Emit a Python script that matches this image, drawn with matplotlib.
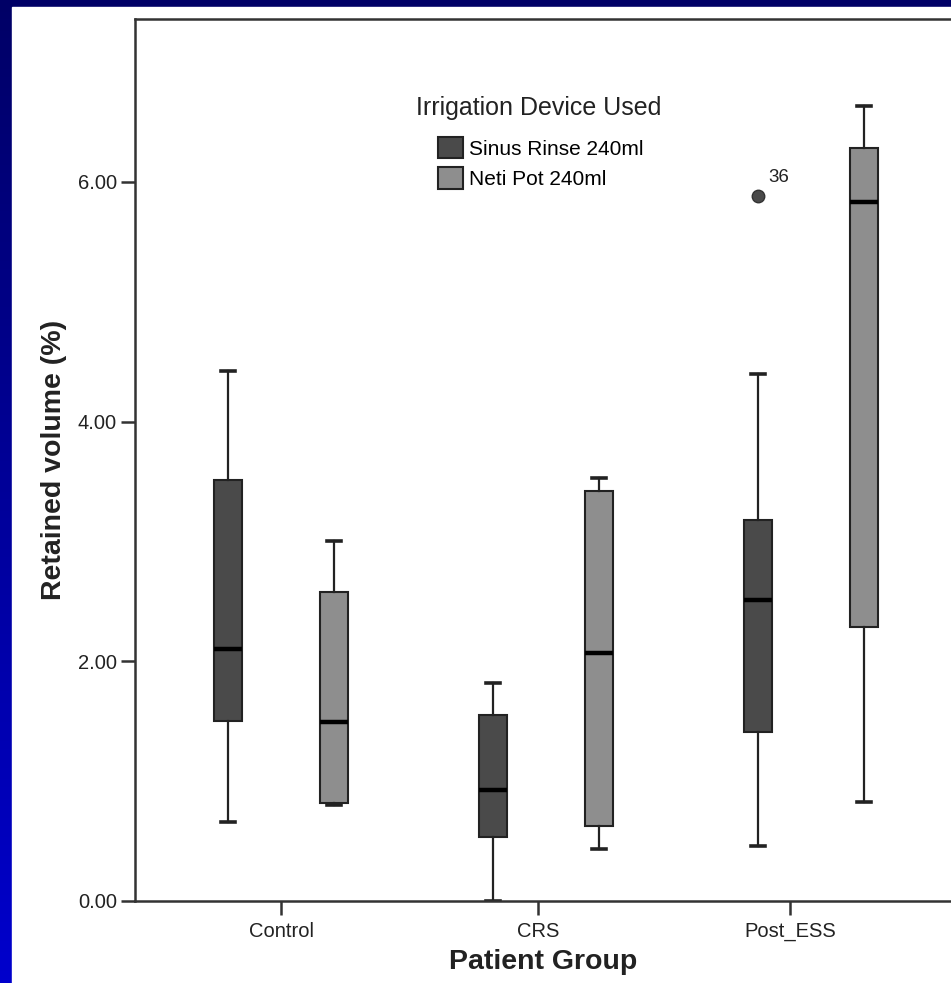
import numpy as np
import matplotlib
matplotlib.use('Agg')
import matplotlib.pyplot as plt
from matplotlib.patches import Patch, Rectangle

plt.rcParams['font.family'] = ['Liberation Sans', 'DejaVu Sans']

# patient groups and the two devices
groups = ['Control', 'CRS', 'Post_ESS']
devices = ['Sinus Rinse 240ml', 'Neti Pot 240ml']
dev_colors = ['#4a4a4a', '#8e8e8e']

# box stats (Retained volume %)
whislo = [[0.66, 0.80], [0.00, 0.43], [0.46, 0.83]]
q1 = [[1.50, 0.82], [0.53, 0.63], [1.41, 2.29]]
med = [[2.10, 1.49], [0.93, 2.07], [2.51, 5.83]]
q3 = [[3.51, 2.58], [1.55, 3.42], [3.18, 6.28]]
whishi = [[4.42, 3.00], [1.82, 3.53], [4.40, 6.63]]
fliers = [[[], []], [[], []], [[5.88], []]]
flier_labels = {(2, 0): '36'}

yticks = [0.0, 2.0, 4.0, 6.0]

fig = plt.figure(figsize=(9.51, 9.83), dpi=100)

# blue slide background with white panel
bg = fig.add_axes([0, 0, 1, 1], zorder=-10)
grad = np.linspace(0, 1, 256).reshape(-1, 1)
cmap = matplotlib.colors.LinearSegmentedColormap.from_list('slide', ['#0000cc', '#000066'])
bg.imshow(grad, aspect='auto', cmap=cmap, origin='lower', extent=[0, 1, 0, 1])
bg.add_patch(Rectangle((12 / 951, 0), 1, 1 - 7 / 983, color='white'))
bg.set_xlim(0, 1)
bg.set_ylim(0, 1)
bg.axis('off')

ax = fig.add_axes([135 / 951, 1 - 901 / 983, 1 - 135 / 951, (901 - 19) / 983])
ax.set_facecolor('white')

offsets = [-0.2, 0.2]
tick_pos = [0.0, 0.97, 1.92]
for j, dev in enumerate(devices):
    stats = []
    pos = []
    for i, g in enumerate(groups):
        stats.append(dict(med=med[i][j], q1=q1[i][j], q3=q3[i][j],
                          whislo=whislo[i][j], whishi=whishi[i][j],
                          fliers=fliers[i][j], label=g))
        pos.append(i + offsets[j])
    ax.bxp(stats, positions=pos, widths=0.105, capwidths=0.05, patch_artist=True,
           boxprops=dict(facecolor=dev_colors[j], edgecolor='#222222', linewidth=1.5),
           medianprops=dict(color='black', linewidth=3.2),
           whiskerprops=dict(color='#222222', linewidth=1.6),
           capprops=dict(color='#222222', linewidth=2.6),
           flierprops=dict(marker='o', markersize=9, markerfacecolor='#4a4a4a',
                           markeredgecolor='#333333'),
           manage_ticks=False)
    for (gi, dj), lab in flier_labels.items():
        if dj == j:
            ax.text(gi + offsets[j] + 0.04, fliers[gi][dj][0] + 0.09, lab,
                    fontsize=13.5, ha='left', va='bottom', color='#222222')

ax.set_xlim(-0.551, 2.528)
ax.set_ylim(0, 7.36)
ax.set_xticks(tick_pos)
ax.set_xticklabels(groups, fontsize=14.5)
ax.set_yticks(yticks)
ax.set_yticklabels(['%.2f' % v for v in yticks], fontsize=14.5)
ax.tick_params(axis='both', length=10, width=1.8, color='#333333', labelcolor='#222222', pad=3)
ax.tick_params(axis='x', pad=5)
for s in ['left', 'bottom', 'top']:
    ax.spines[s].set_color('#333333')
    ax.spines[s].set_linewidth(1.8)
ax.spines['right'].set_visible(False)

ax.set_xlabel('Patient Group', fontsize=20.5, fontweight='bold', color='#222222', labelpad=6)
ax.set_ylabel('Retained volume (%)', fontsize=20.5, fontweight='bold', color='#222222', labelpad=8)

# legend: title placed on its own, entries below it
ax.text((539 - 135) / 816, (901 - 108) / 882, 'Irrigation Device Used', transform=ax.transAxes,
        fontsize=18, ha='center', va='center', color='#222222')
handles = [Patch(facecolor=c, edgecolor='#222222', linewidth=1.5) for c in dev_colors]
leg = ax.legend(handles, devices, fontsize=15, frameon=False, handlelength=1.2,
                handleheight=1.2, handletextpad=0.3, labelspacing=0.4, loc='center',
                borderpad=0, bbox_to_anchor=((541 - 135) / 816, (901 - 163) / 882))

fig.savefig('out.png', dpi=100)
